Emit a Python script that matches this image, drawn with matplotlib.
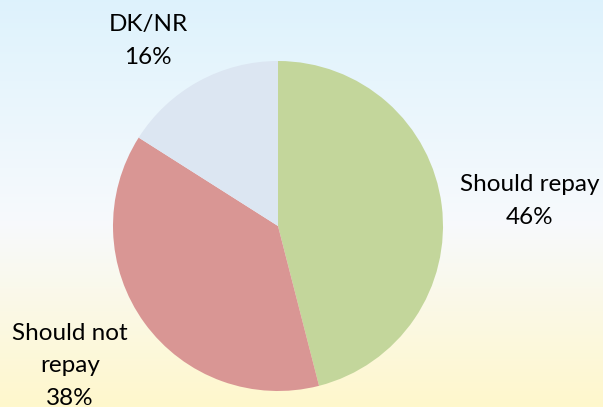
import numpy as np
import matplotlib.pyplot as plt

labels = ['Should repay', 'Should not\nrepay', 'DK/NR']
shares = [46, 38, 16]
colors = ['#C3D69B', '#D99694', '#DCE6F2']

W, H = 603, 407

fig = plt.figure(figsize=(W / 100, H / 100), dpi=100)

# faint background, blue at top fading to yellow at the bottom
bg = fig.add_axes([0, 0, 1, 1])
bg.axis('off')
t = np.linspace(0, 1, 256)[:, None]
top = np.array([0.87, 0.95, 0.99])
mid = np.array([0.97, 0.98, 0.99])
bot = np.array([1.0, 0.97, 0.80])
grad = np.where(t < 0.55, top + (mid - top) * (t / 0.55),
                mid + (bot - mid) * ((t - 0.55) / 0.45))
grad = grad.reshape(256, 1, 3)
bg.imshow(grad, aspect='auto', extent=[0, 1, 0, 1])
bg.set_xlim(0, 1)
bg.set_ylim(0, 1)

ax = fig.add_axes([0, 0, 1, 1])
ax.set_xlim(0, W)
ax.set_ylim(0, H)
ax.set_aspect('equal')
ax.axis('off')
ax.patch.set_alpha(0)

ax.pie(shares, colors=colors, startangle=90, counterclock=False,
       center=(278, H - 226), radius=165, frame=True,
       wedgeprops=dict(linewidth=0))
ax.set_xlim(0, W)
ax.set_ylim(0, H)
ax.axis('off')

label_pos = [(530, 201), (70, 366), (148, 41)]
for lab, s, (x, y) in zip(labels, shares, label_pos):
    ax.text(x, H - y, '%s\n%d%%' % (lab, s), ha='center', va='center',
            fontsize=17.5, family='Lato', linespacing=1.65, color='black')

fig.savefig('out.png', dpi=100)
